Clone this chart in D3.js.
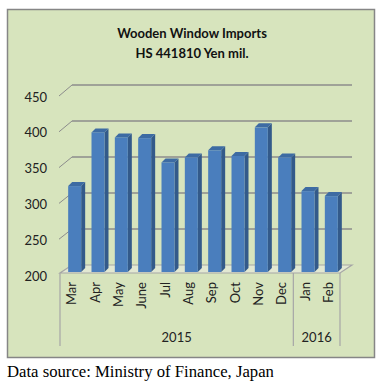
<!DOCTYPE html>
<html>
<head>
<meta charset="utf-8">
<script src="https://cdn.jsdelivr.net/npm/d3@7"></script>
<style>
    body { margin: 0; background: #ffffff; }
    svg { display: block; }
</style>
</head>
<body>
<svg width="386" height="386"></svg>
<script>
// data
var months = ["Mar", "Apr", "May", "June", "Jul", "Aug", "Sep", "Oct", "Nov", "Dec", "Jan", "Feb"];
var values = [320, 395, 388, 387, 353, 360, 370, 362, 402, 360, 313, 306];
var years = ["2015", "2016"];
var yearMonths = [10, 2];
var yTicks = [200, 250, 300, 350, 400, 450];

var svg = d3.select("svg");

var depthX = 12, depthY = -8;   // floor / wall depth
var barDX = 4, barDY = -4;      // bar depth

// chart area box
svg.append("rect")
    .attr("x", 7.5)
    .attr("y", 9.5)
    .attr("width", 367)
    .attr("height", 348)
    .attr("fill", "#d7e4bd")
    .attr("stroke", "#868686")
    .attr("stroke-width", 1.5);

// title
var title = svg.append("text")
    .attr("text-anchor", "middle")
    .attr("font-family", "Lato, 'Open Sans', sans-serif")
    .attr("font-weight", "bold")
    .attr("font-size", "13px")
    .attr("fill", "#111");
title.append("tspan").attr("x", 192).attr("y", 38).text("Wooden Window Imports");
title.append("tspan").attr("x", 192).attr("y", 58).text("HS 441810 Yen mil.");

//define scales
var x = d3.scaleBand().domain(months).range([60, 340]);
var yFront = d3.scaleLinear().domain([200, 450]).range([274, 95]);
var yBack = d3.scaleLinear().domain([200, 450]).range([265, 85]);
var yBar = d3.scaleLinear().domain([200, 450]).range([272, 93]);

var g = svg.append("g");

// floor
g.append("polygon")
    .attr("points", [[x.range()[0], yFront(200) - 1], [x.range()[1], yFront(200) - 1],
        [x.range()[1] + depthX, yBack(200)], [x.range()[0] + depthX, yBack(200)]].join(" "))
    .attr("fill", "#e2e8d2")
    .attr("stroke", "#a6a6a6")
    .attr("stroke-width", 1.2);

// back wall gridlines + side wall diagonals
g.selectAll(".grid")
    .data(yTicks.slice(1))
    .enter().append("line")
    .attr("class", "grid")
    .attr("x1", 60 + depthX)
    .attr("x2", 340 + depthX)
    .attr("y1", function (d) { return yBack(d); })
    .attr("y2", function (d) { return yBack(d); })
    .attr("stroke", "#8c8c8c")
    .attr("stroke-width", 1.5);

g.selectAll(".diag")
    .data(yTicks.slice(1))
    .enter().append("line")
    .attr("class", "diag")
    .attr("x1", 59)
    .attr("x2", 60 + depthX)
    .attr("y1", function (d) { return yFront(d) + 1; })
    .attr("y2", function (d) { return yBack(d); })
    .attr("stroke", "#8c8c8c")
    .attr("stroke-width", 1);

// y labels
g.selectAll(".ylab")
    .data(yTicks)
    .enter().append("text")
    .attr("class", "ylab")
    .attr("x", 47)
    .attr("y", function (d) { return yFront(d) + 2; })
    .attr("dy", "0.35em")
    .attr("text-anchor", "end")
    .attr("font-family", "Lato, sans-serif")
    .attr("font-size", "13px")
    .attr("fill", "#222")
    .text(function (d) { return d; });

//draw bars (front, side, top)
var bw = 13;
var bars = g.selectAll(".bar")
    .data(months.map(function (m, i) { return [m, values[i]]; }))
    .enter().append("g")
    .attr("class", "bar");

function bx(d) { return x(d[0]) + x.bandwidth() / 2 - bw / 2 + 3; }

bars.append("polygon")
    .attr("points", function (d) {
        var l = bx(d) + bw, t = yBar(d[1]), b = yBar(200);
        return [[l, t], [l + barDX, t + barDY], [l + barDX, b + barDY], [l, b]].join(" ");
    })
    .attr("fill", "#335a8a");

bars.append("polygon")
    .attr("points", function (d) {
        var l = bx(d), t = yBar(d[1]);
        return [[l, t], [l + barDX, t + barDY], [l + bw + barDX, t + barDY], [l + bw, t]].join(" ");
    })
    .attr("fill", "#3d6ba3");

bars.append("rect")
    .attr("x", bx)
    .attr("y", function (d) { return yBar(d[1]); })
    .attr("width", bw)
    .attr("height", function (d) { return yBar(200) - yBar(d[1]); })
    .attr("fill", "#4a7ebd");

// month labels
g.selectAll(".mlab")
    .data(months)
    .enter().append("text")
    .attr("class", "mlab")
    .attr("transform", function (d) { return "translate(" + (x(d) + x.bandwidth() / 2) + ",282) rotate(-90)"; })
    .attr("dy", "0.35em")
    .attr("text-anchor", "end")
    .attr("font-family", "Lato, sans-serif")
    .attr("font-size", "13px")
    .attr("fill", "#222")
    .text(function (d) { return d; });

// year groups and separators
var start = 0, seps = [x.range()[0]];
years.forEach(function (yr, i) {
    var x0 = x(months[start]), x1 = x(months[start + yearMonths[i] - 1]) + x.bandwidth();
    seps.push(x1);
    g.append("text")
        .attr("x", (x0 + x1) / 2)
        .attr("y", 337)
        .attr("dy", "0.35em")
        .attr("text-anchor", "middle")
        .attr("font-family", "Lato, sans-serif")
        .attr("font-size", "13px")
        .attr("fill", "#222")
        .text(yr);
    start += yearMonths[i];
});

g.selectAll(".sep")
    .data(seps)
    .enter().append("line")
    .attr("class", "sep")
    .attr("x1", function (d) { return d; })
    .attr("x2", function (d) { return d; })
    .attr("y1", yFront(200) - 1)
    .attr("y2", 346)
    .attr("stroke", "#a6a6a6")
    .attr("stroke-width", 1.2);

// footer
svg.append("text")
    .attr("x", 7)
    .attr("y", 377)
    .attr("font-family", "'Liberation Serif', 'Times New Roman', serif")
    .attr("font-size", "16.7px")
    .attr("fill", "#000")
    .text("Data source: Ministry of Finance, Japan");
</script>
</body>
</html>
